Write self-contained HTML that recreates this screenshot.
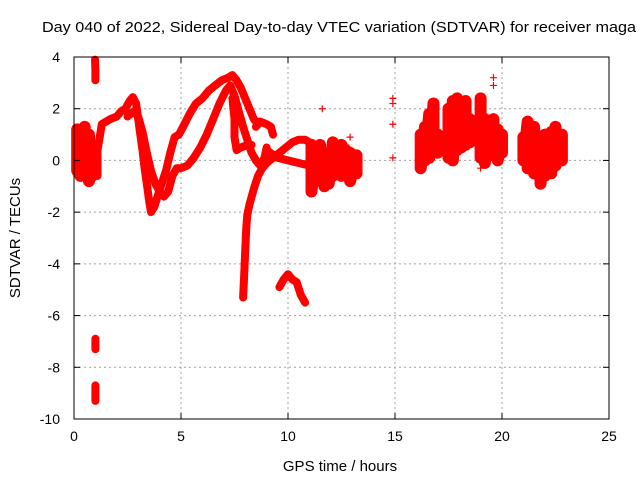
<!DOCTYPE html>
<html><head><meta charset="utf-8"><style>
html,body{margin:0;padding:0;background:#fff;}
svg{display:block;font-family:"Liberation Sans",sans-serif;}
</style></head><body>
<svg id="chart" width="640" height="480" viewBox="0 0 640 480">
<rect width="640" height="480" fill="#fff"/>
<text x="42" y="32" font-size="15" textLength="594" lengthAdjust="spacingAndGlyphs" fill="#000">Day 040 of 2022, Sidereal Day-to-day VTEC variation (SDTVAR) for receiver maga</text>
<text transform="translate(20,238) rotate(-90)" text-anchor="middle" font-size="15">SDTVAR / TECUs</text>
<text x="340" y="471" text-anchor="middle" font-size="15">GPS time / hours</text>
<g id="grid"></g><g id="bands"></g><g id="marks"></g><g id="axes"></g>
</svg>
<script>
const xTicks=[0,5,10,15,20,25];
const yTicks=[-10,-8,-6,-4,-2,0,2,4];
// each track: [time(h), value(TECU)] pairs
const trackEarlyBlob=[[0.15,1.2],[0.15,-0.4],[0.3,0.9],[0.3,-0.6],[0.5,1.3],[0.5,-0.3],[0.7,1.0],[0.7,-0.8],[0.85,0.6],[0.85,-0.6],[0.95,0.2]];
const trackSpikeUp=[[0.98,3.9],[1.0,3.5],[1.0,3.1]];
const trackSpikeDown1=[[1.0,-6.9],[1.0,-7.3]];
const trackSpikeDown2=[[1.0,-8.7],[1.0,-9.3]];
const trackMain=[[1.1,-0.6],[1.1,0.4],[1.2,0.9],[1.3,1.4],[1.5,1.5],[1.7,1.6],[2.0,1.7],[2.2,1.9],[2.4,2.0],[2.6,2.3],[2.75,2.45],[2.9,2.2],[3.0,1.6],[3.1,1.0],[3.2,0.4],[3.3,-0.3],[3.4,-0.9],[3.5,-1.5],[3.6,-2.0],[3.75,-1.8],[3.9,-1.4],[4.1,-0.9],[4.3,-0.4],[4.5,0.3],[4.7,0.9],[4.9,1.0],[5.1,1.3],[5.4,1.8],[5.7,2.2],[6.0,2.4],[6.3,2.7],[6.6,2.9],[6.9,3.1],[7.2,3.2],[7.4,3.3],[7.6,3.1],[7.8,2.8],[8.0,2.4],[8.2,2.0],[8.4,1.6],[8.6,1.4]];
const trackSecond=[[2.5,1.7],[2.8,1.9],[3.0,1.7],[3.2,1.1],[3.4,0.3],[3.6,-0.4],[3.8,-0.9],[4.0,-1.2],[4.2,-1.4],[4.4,-1.2],[4.6,-0.6],[4.8,-0.3],[5.0,-0.3],[5.3,-0.2],[5.6,0.1],[5.9,0.5],[6.2,1.0],[6.5,1.6],[6.8,2.2],[7.1,2.7],[7.3,2.9],[7.5,2.5],[7.7,1.9],[7.9,1.3],[8.1,0.8],[8.3,0.3],[8.5,0.0],[8.7,-0.2],[8.9,0.1],[9.0,0.5]];
const trackDrop=[[7.4,2.4],[7.5,1.6],[7.5,0.9],[7.6,0.4],[7.8,0.5],[8.1,0.6],[8.3,0.6]];
const trackBump=[[8.5,1.3],[8.7,1.5],[9.0,1.4],[9.2,1.3],[9.3,1.0]];
const trackRecovery=[[7.9,-5.3],[7.95,-4.5],[8.0,-3.5],[8.05,-2.6],[8.1,-2.1],[8.2,-1.7],[8.4,-1.1],[8.6,-0.6],[8.8,-0.3],[9.0,-0.1],[9.3,0.1],[9.6,0.3],[9.9,0.5],[10.2,0.7],[10.5,0.8],[10.8,0.8],[11.0,0.7]];
const trackFlat=[[9.0,0.4],[9.5,0.1],[10.0,0.0],[10.5,-0.1],[11.0,-0.2]];
const trackLow=[[9.6,-4.9],[9.8,-4.6],[10.0,-4.4],[10.2,-4.6],[10.4,-4.7],[10.6,-5.2],[10.8,-5.5]];
const trackMidBlob=[[11.1,0.6],[11.1,-1.2],[11.3,0.4],[11.3,-0.8],[11.5,0.6],[11.5,-0.5],[11.7,0.2],[11.7,-1.0],[11.9,0.3],[11.9,-0.9],[12.1,0.7],[12.1,-0.6],[12.3,0.4],[12.3,-0.4],[12.5,0.6],[12.5,-0.6],[12.7,0.4],[12.7,-0.4],[12.9,0.3],[12.9,-0.8],[13.2,0.2],[13.2,-0.5]];
const pointsIsolated=[[11.6,2.0],[12.7,0.6],[12.9,0.9],[14.9,2.4],[14.9,2.2],[14.9,1.4],[14.9,0.1],[19.6,3.2],[19.6,2.9],[19.0,-0.3]];
const trackBlob16=[[16.2,1.0],[16.2,-0.3],[16.4,1.3],[16.4,0.0],[16.6,1.8],[16.6,0.1],[16.8,2.2],[16.8,0.5],[17.0,1.0],[17.0,0.3],[17.2,0.9],[17.2,0.4]];
const trackBlob18=[[17.5,2.0],[17.5,0.1],[17.7,2.3],[17.7,0.0],[17.9,2.4],[17.9,0.4],[18.1,1.5],[18.1,0.5],[18.3,2.3],[18.3,0.6],[18.5,1.6],[18.5,0.7],[18.7,1.0]];
const trackBlob19=[[19.0,2.4],[19.0,0.1],[19.2,1.6],[19.2,-0.1],[19.4,1.2],[19.4,0.3],[19.6,1.6],[19.6,0.2],[19.8,1.2],[19.8,0.0],[20.0,1.0],[20.0,0.3]];
const trackBlob21=[[21.0,0.9],[21.0,0.0],[21.2,1.5],[21.2,-0.3],[21.5,1.3],[21.5,-0.5],[21.8,0.8],[21.8,-0.9],[22.0,1.0],[22.0,-0.6],[22.3,1.1],[22.3,-0.5],[22.5,1.3],[22.5,-0.2],[22.8,1.0],[22.8,0.0]];
const lineTracks=[trackSpikeUp,trackSpikeDown1,trackSpikeDown2,trackMain,trackSecond,trackDrop,trackBump,trackRecovery,trackFlat,trackLow];
const blobTracks=[trackEarlyBlob,trackMidBlob,trackBlob16,trackBlob18,trackBlob19,trackBlob21];

const L=74,R=609,T=57,B=419,xMin=0,xMax=25,yMin=-10,yMax=4;
const xs=t=>L+(t-xMin)/(xMax-xMin)*(R-L);
const ys=v=>B-(v-yMin)/(yMax-yMin)*(B-T);
const NS="http://www.w3.org/2000/svg";
function mk(tag,attrs,parent){const e=document.createElementNS(NS,tag);for(const k in attrs)e.setAttribute(k,attrs[k]);parent.appendChild(e);return e;}
const grid=document.getElementById('grid'),axes=document.getElementById('axes'),bands=document.getElementById('bands'),marks=document.getElementById('marks');
xTicks.forEach(t=>{
  const x=xs(t);
  if(t>xMin&&t<xMax){const g=mk('line',{x1:x,x2:x,y1:T,y2:B,stroke:'#a0a0a0','stroke-dasharray':'2,3'},grid);
  
  }
  const a=mk('line',{x1:x,x2:x,y1:B,y2:B-6,stroke:'#000'},axes);
  const b=mk('line',{x1:x,x2:x,y1:T,y2:T+6,stroke:'#000'},axes);
  const tx=mk('text',{x:x,y:B+22,'text-anchor':'middle','font-size':'14'},axes);tx.textContent=t;
  
  
});
yTicks.forEach(v=>{
  const y=ys(v);
  if(v>yMin&&v<yMax){const g=mk('line',{x1:L,x2:R,y1:y,y2:y,stroke:'#a0a0a0','stroke-dasharray':'2,3'},grid);
  
  }
  const a=mk('line',{x1:L,x2:L+6,y1:y,y2:y,stroke:'#000'},axes);
  const b=mk('line',{x1:R,x2:R-6,y1:y,y2:y,stroke:'#000'},axes);
  const tx=mk('text',{x:L-14,y:y+5,'text-anchor':'end','font-size':'14'},axes);tx.textContent=v;
  
  
});
const frame=mk('rect',{x:L,y:T,width:R-L,height:B-T,fill:'none',stroke:'#000','stroke-width':1},axes);


function cross(t,v){
  const x=xs(t),y=ys(v);
  const p=mk('path',{d:`M${x-3.5},${y}h7M${x},${y-3.5}v7`,stroke:'#f00','stroke-width':1.2,fill:'none'},marks);
  
  
}
function band(tr,w){
  const d=tr.map((p,i)=>(i?'L':'M')+xs(p[0]).toFixed(1)+','+ys(p[1]).toFixed(1)).join('');
  const b=mk('path',{d:d,stroke:'#f00','stroke-width':w,fill:'none','stroke-linejoin':'round','stroke-linecap':'round'},bands);
  
  
  tr.forEach(p=>cross(p[0],p[1]));
}
lineTracks.forEach(tr=>band(tr,8));
blobTracks.forEach(tr=>band(tr,12));
pointsIsolated.forEach(p=>cross(p[0],p[1]));
</script>
</body></html>
